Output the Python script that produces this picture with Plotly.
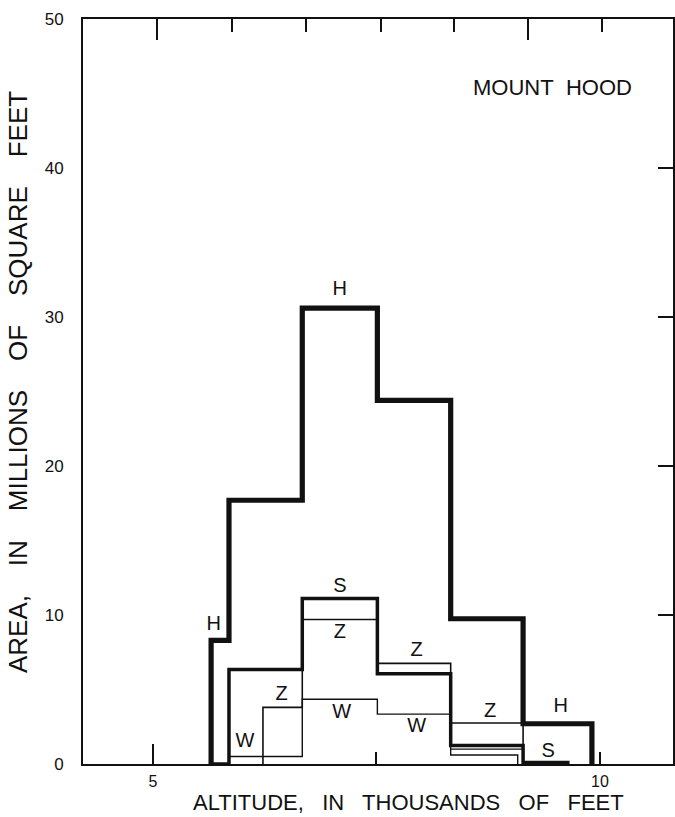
import plotly.graph_objects as go

# Altitude bins (thousands of feet) and area (millions of square feet) per curve
h_edges = [5.65, 5.85, 6.67, 7.51, 8.33, 9.14, 9.91]
h_area = [8.3, 17.7, 30.6, 24.4, 9.75, 2.7]

s_edges = [5.65, 5.85, 6.67, 7.51, 8.33, 9.14, 9.64]
s_area = [0.0, 6.35, 11.1, 6.05, 1.25, 0.1]

z_edges = [6.23, 6.67, 7.51, 8.33, 9.14]
z_area = [3.8, 9.7, 6.75, 2.75]

w_edges = [5.85, 6.67, 7.51, 8.33, 9.08]
w_area = [0.5, 4.35, 3.35, 0.6]

aux_edges = [8.33, 9.14]
aux_area = [1.0]

# Curve labels: text, altitude, area
label_text = ["H", "H", "H", "S", "S", "Z", "Z", "Z", "Z", "W", "W", "W"]
label_x = [5.68, 7.09, 9.56, 7.09, 9.42, 7.09, 7.95, 6.44, 8.77, 6.03, 7.11, 7.95]
label_y = [9.3, 31.8, 3.8, 11.9, 0.8, 8.8, 7.6, 4.6, 3.5, 1.45, 3.4, 2.5]

x_range = [4.217, 10.817]
y_range = [0, 50]
top_ticks = [5.05, 5.88, 6.71, 7.55, 8.37, 9.20, 10.02]
top_long_ticks = [5.05, 9.20]

INK = "#111111"
FONT = "Liberation Sans, Arial, Helvetica, sans-serif"
NB = "\u00a0"


def step_xy(edges, values):
    xs = [edges[0]] + list(edges)
    ys = [0] + list(values) + [0]
    return xs, ys


def spaced(text, extra=1):
    # widen the word gaps of the lettering
    return (NB * extra + " ").join(text.split(" "))


fig = go.Figure()

for edges, vals, width in [
    (w_edges, w_area, 1.4),
    (aux_edges, None, 1.4),
    (z_edges, z_area, 1.6),
    (s_edges, s_area, 3.5),
    (h_edges, h_area, 5.2),
]:
    if vals is None:
        xs = list(aux_edges)
        ys = [aux_area[0], aux_area[0]]
        shape = "linear"
    else:
        xs, ys = step_xy(edges, vals)
        shape = "hv"
    fig.add_trace(go.Scatter(
        x=xs, y=ys, mode="lines",
        line=dict(color=INK, width=width, shape=shape),
        showlegend=False, hoverinfo="skip",
    ))

fig.add_trace(go.Scatter(
    x=label_x, y=label_y, mode="text", text=label_text,
    textfont=dict(family=FONT, size=20, color=INK),
    showlegend=False, hoverinfo="skip",
))

# empty traces so that the overlay axes are drawn
for xa, ya in [("x2", "y"), ("x3", "y"), ("x4", "y"), ("x", "y2")]:
    fig.add_trace(go.Scatter(x=[None], y=[None], xaxis=xa, yaxis=ya,
                             showlegend=False, hoverinfo="skip"))

axis_common = dict(range=x_range, showgrid=False, zeroline=False,
                   tickcolor=INK, tickwidth=2)

fig.update_layout(
    width=675, height=817,
    margin=dict(l=83, r=2, t=19, b=53),
    paper_bgcolor="white", plot_bgcolor="white",
    font=dict(family=FONT, color=INK),
    xaxis=dict(
        **axis_common,
        showline=True, linecolor=INK, linewidth=2,
        ticks="inside", ticklen=12,
        tickvals=[5, 7.5, 10], ticktext=["5", "", "10"],
        tickfont=dict(size=16), ticklabelstandoff=2,
    ),
    xaxis3=dict(
        **axis_common, overlaying="x", side="bottom",
        showline=False, ticks="inside", ticklen=20,
        tickvals=[5], showticklabels=False,
    ),
    xaxis2=dict(
        **axis_common, overlaying="x", side="top",
        showline=True, linecolor=INK, linewidth=2,
        ticks="inside", ticklen=13,
        tickvals=top_ticks, showticklabels=False,
    ),
    xaxis4=dict(
        **axis_common, overlaying="x", side="top",
        showline=False, ticks="inside", ticklen=21,
        tickvals=top_long_ticks, showticklabels=False,
    ),
    yaxis=dict(
        range=y_range, showgrid=False, zeroline=False,
        showline=True, linecolor=INK, linewidth=2,
        ticks="", tickvals=[0, 10, 20, 30, 40, 50],
        tickfont=dict(size=17), ticklabelstandoff=14,
    ),
    yaxis2=dict(
        range=y_range, overlaying="y", side="right",
        showgrid=False, zeroline=False,
        showline=True, linecolor=INK, linewidth=2,
        ticks="inside", ticklen=15, tickwidth=2, tickcolor=INK,
        tickvals=[10, 20, 30, 40], showticklabels=False,
    ),
    annotations=[
        dict(text=spaced("MOUNT HOOD"), xref="x", yref="y", x=9.47, y=45.4,
             showarrow=False, font=dict(size=22, color=INK, family=FONT)),
        dict(text=spaced("ALTITUDE, IN THOUSANDS OF FEET", 2),
             xref="paper", yref="paper", x=0.551, y=-0.0515,
             xanchor="center", yanchor="middle", showarrow=False,
             font=dict(size=22, color=INK, family=FONT)),
        dict(text=spaced("AREA, IN MILLIONS OF SQUARE FEET", 3),
             xref="paper", yref="paper", x=-0.111, y=0.512,
             xanchor="center", yanchor="middle", textangle=-90,
             showarrow=False, font=dict(size=26, color=INK, family=FONT)),
    ],
)

fig.write_html("out.html")
